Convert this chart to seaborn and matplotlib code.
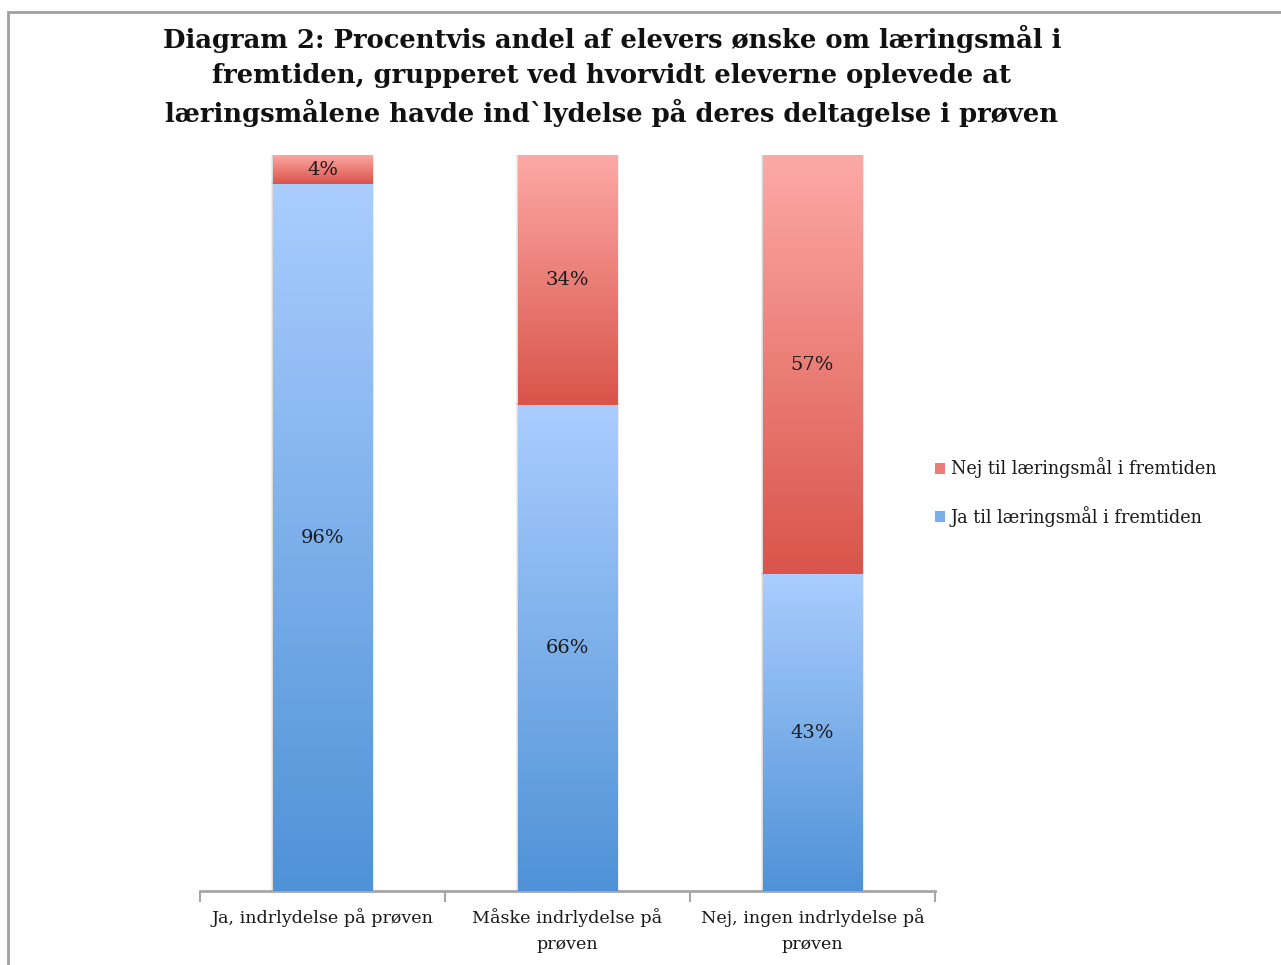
import numpy as np
import pandas as pd
import matplotlib
matplotlib.use("Agg")
import matplotlib.pyplot as plt
import seaborn as sns
from matplotlib.colors import LinearSegmentedColormap
from matplotlib.patches import Rectangle, Patch

# Data
categories = ["Ja, indrlydelse på prøven",
              "Måske indrlydelse på\nprøven",
              "Nej, ingen indrlydelse på\nprøven"]
ja_values = [96, 66, 43]
nej_values = [4, 34, 57]
series_names = ["Nej til læringsmål i fremtiden", "Ja til læringsmål i fremtiden"]
title = ("Diagram 2: Procentvis andel af elevers ønske om læringsmål i\n"
         "fremtiden, grupperet ved hvorvidt eleverne oplevede at\n"
         "læringsmålene havde ind`lydelse på deres deltagelse i prøven")

sns.set_theme(style="white")
plt.rcParams["font.family"] = ["DejaVu Serif"]

blue_top, blue_bot = "#aacdfe", "#4f92d7"
red_top, red_bot = "#fda9a5", "#d9544a"

fig = plt.figure(figsize=(12.81, 9.65), dpi=100)
ax = fig.add_axes([200 / 1281, 1 - 891 / 965, 735 / 1281, 736 / 965])

df = pd.DataFrame({"cat": categories, "ja": ja_values,
                   "total": [j + n for j, n in zip(ja_values, nej_values)]})

sns.barplot(data=df, x="cat", y="total", color=red_bot, width=0.405,
            ax=ax, saturation=1)
sns.barplot(data=df, x="cat", y="ja", color=blue_bot, width=0.405,
            ax=ax, saturation=1)

n = len(categories)
red_patches = ax.patches[:n]
blue_patches = ax.patches[n:2 * n]


def gradient_fill(patch, top, bot):
    x0, y0 = patch.get_x(), patch.get_y()
    w, h = patch.get_width(), patch.get_height()
    cmap = LinearSegmentedColormap.from_list("g", [bot, top])
    grad = np.linspace(0, 1, 256).reshape(-1, 1)
    ax.imshow(grad, cmap=cmap, aspect="auto", origin="lower",
              extent=(x0, x0 + w, y0, y0 + h), zorder=3)
    patch.set_facecolor("none")
    patch.set_edgecolor("none")
    # soft shadow around the segment
    for pad in np.linspace(0.008, 0.002, 4):
        ax.add_patch(Rectangle((x0 - pad, y0), w + 2 * pad, h + pad * 40,
                               facecolor="black", alpha=0.035,
                               edgecolor="none", zorder=2))


for p, j in zip(red_patches, ja_values):
    p.set_y(j)
    p.set_height(p.get_height() - j)
    gradient_fill(p, red_top, red_bot)
for p in blue_patches:
    gradient_fill(p, blue_top, blue_bot)

# value labels
for i, (j, nv) in enumerate(zip(ja_values, nej_values)):
    ax.text(i, j / 2, f"{j}%", ha="center", va="center", fontsize=14,
            color="#1a1a1a", zorder=5)
    ax.text(i, j + nv / 2, f"{nv}%", ha="center", va="center", fontsize=14,
            color="#1a1a1a", zorder=5)

ax.set_xlim(-0.5, n - 0.5)
ax.set_ylim(0, 100)
ax.set_xlabel("")
ax.set_ylabel("")
ax.set_yticks([])
ax.set_xticks(range(n))
ax.set_xticklabels(categories, fontsize=12.6, color="#1a1a1a", linespacing=1.7)
ax.tick_params(axis="x", which="major", length=0, pad=12)
ax.set_xticks(np.arange(-0.5, n, 1), minor=True)
ax.tick_params(axis="x", which="minor", bottom=True, length=8, width=1.5,
               color="#a6a6a6", direction="out")
for s in ["top", "right", "left"]:
    ax.spines[s].set_visible(False)
ax.spines["bottom"].set_color("#a6a6a6")
ax.spines["bottom"].set_linewidth(2)
ax.set_facecolor("none")

handles = [Patch(facecolor="#ea7d75", edgecolor="none"),
           Patch(facecolor="#7aaee8", edgecolor="none")]
fig.legend(handles, series_names, loc="center left",
           bbox_to_anchor=(919 / 1281, 1 - 492 / 965), frameon=False,
           fontsize=12.7, handlelength=0.6, handleheight=0.6,
           handletextpad=0.3, labelspacing=1.55, labelcolor="#1a1a1a")

fig.text(612 / 1281, 1 - 76 / 965, title, ha="center", va="center",
         fontsize=18.6, fontweight="bold", color="#111111", linespacing=1.5)

# outer frame
fig.add_artist(Rectangle((8 / 1281, -0.05), 1.2, 1 - 12 / 965 + 0.05,
                         transform=fig.transFigure, facecolor="none",
                         edgecolor="#a0a0a0", linewidth=2))

fig.savefig("out.png", dpi=100)
